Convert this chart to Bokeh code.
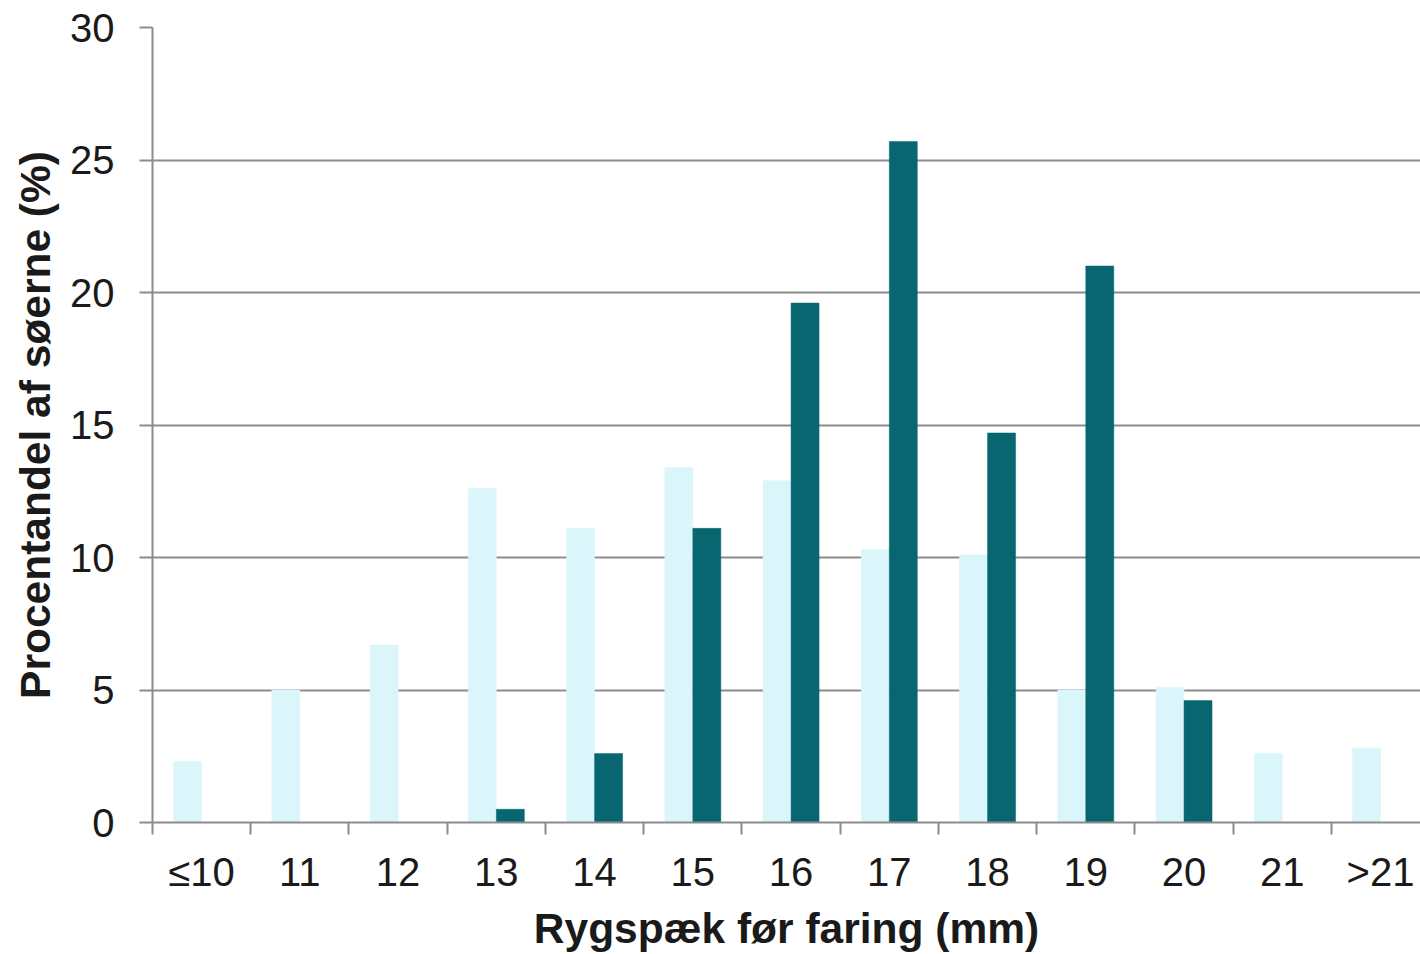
from bokeh.plotting import figure
from bokeh.models import ColumnDataSource, Range1d, FixedTicker
from bokeh.transform import dodge
from bokeh.embed import file_html
from bokeh.resources import INLINE

# Backfat thickness before farrowing (mm) classes
categories = ["≤10", "11", "12", "13", "14", "15", "16", "17", "18", "19", "20", "21", ">21"]

# Share of sows (%) per class, two groups
light_values = [2.3, 5.0, 6.7, 12.6, 11.1, 13.4, 12.9, 10.3, 10.1, 5.0, 5.1, 2.6, 2.8]
dark_values = [0.0, 0.0, 0.0, 0.5, 2.6, 11.1, 19.6, 25.7, 14.7, 21.0, 4.6, 0.0, 0.0]

y_ticks = [0, 5, 10, 15, 20, 25, 30]

LIGHT = "#daf6fa"
DARK = "#086671"
GRID = "#8c8c8c"
TEXT = "#1a1a1a"
FONT = "Liberation Sans"

idx = list(range(len(categories)))
centers = [i + 0.5 for i in idx]
source = ColumnDataSource(dict(x=centers, light=light_values, dark=dark_values))

p = figure(
    width=1420, height=954,
    x_range=Range1d(0, 12.907), y_range=Range1d(0, 30),
    output_backend="svg", toolbar_location=None,
    min_border_left=152, min_border_right=0, min_border_top=27, min_border_bottom=132,
)
p.outline_line_color = None
p.background_fill_color = "white"
p.border_fill_color = "white"

bar_w = 0.285
p.vbar(x=dodge("x", -bar_w / 2, range=p.x_range), top="light", width=bar_w, bottom=0,
       source=source, fill_color=LIGHT, line_color=LIGHT, line_width=0.5)
p.vbar(x=dodge("x", bar_w / 2, range=p.x_range), top="dark", width=bar_w, bottom=0,
       source=source, fill_color=DARK, line_color=DARK, line_width=0.5)

# x axis: labels centred in each class, tick marks on class boundaries
xa = p.xaxis[0]
xa.ticker = FixedTicker(ticks=centers, minor_ticks=[i for i in range(len(categories) + 1)])
xa.major_label_overrides = {c: lab for c, lab in zip(centers, categories)}
xa.major_tick_line_color = None
xa.major_tick_out = 0
xa.major_tick_in = 0
xa.minor_tick_line_color = GRID
xa.minor_tick_line_width = 2
xa.minor_tick_out = 12
xa.minor_tick_in = 0
xa.axis_line_color = GRID
xa.axis_line_width = 2
xa.major_label_text_font = FONT
xa.major_label_text_font_size = "40px"
xa.major_label_text_color = TEXT
xa.major_label_standoff = 15
xa.axis_label = "Rygspæk før faring (mm)"
xa.axis_label_text_font = FONT
xa.axis_label_text_font_size = "42.5px"
xa.axis_label_text_font_style = "bold"
xa.axis_label_text_color = TEXT
xa.axis_label_standoff = 8

ya = p.yaxis[0]
ya.ticker = FixedTicker(ticks=y_ticks)
ya.minor_tick_line_color = None
ya.major_tick_line_color = GRID
ya.major_tick_line_width = 2
ya.major_tick_out = 13
ya.major_tick_in = 0
ya.axis_line_color = GRID
ya.axis_line_width = 2
ya.major_label_text_font = FONT
ya.major_label_text_font_size = "40px"
ya.major_label_text_color = TEXT
ya.major_label_standoff = 25
ya.axis_label = "Procentandel af søerne (%)"
ya.axis_label_text_font = FONT
ya.axis_label_text_font_size = "42.5px"
ya.axis_label_text_font_style = "bold"
ya.axis_label_text_color = TEXT
ya.axis_label_standoff = 8

p.xgrid.grid_line_color = None
p.ygrid.ticker = FixedTicker(ticks=y_ticks)
p.ygrid.grid_line_color = GRID
p.ygrid.grid_line_width = 2

open("out.html", "w").write(file_html(p, INLINE))
